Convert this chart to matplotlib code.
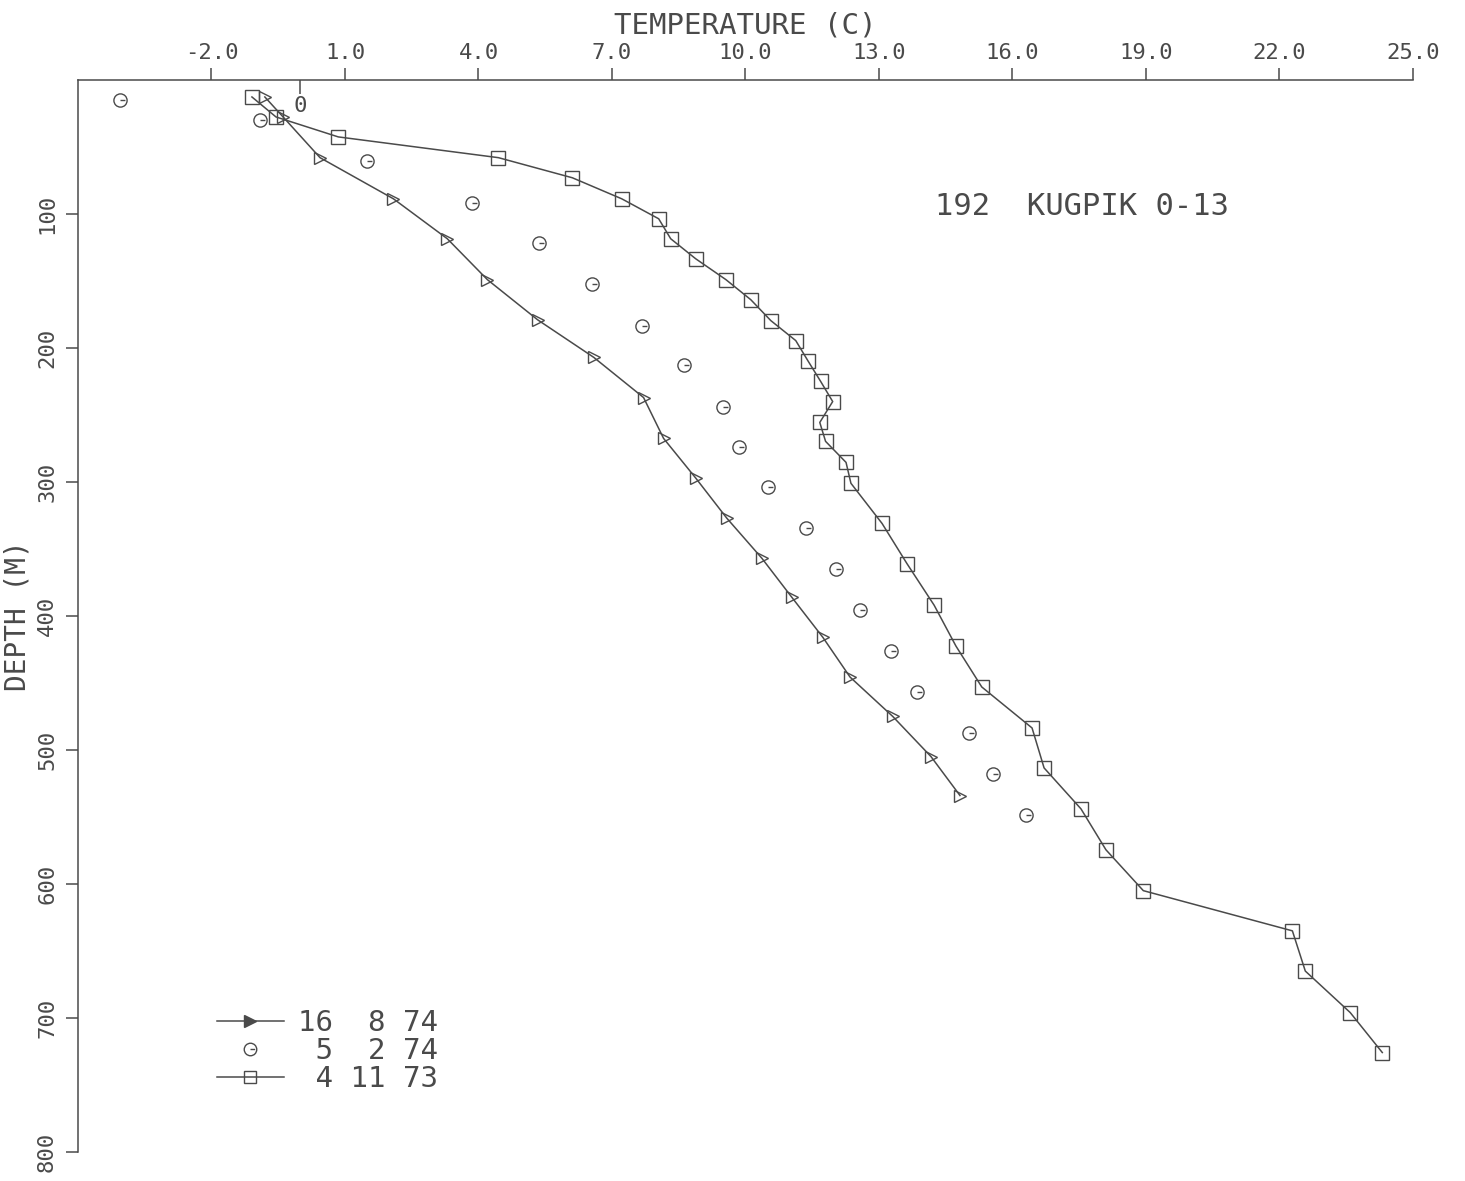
import matplotlib
matplotlib.use("Agg")
import matplotlib.pyplot as plt
from matplotlib.path import Path
from matplotlib.lines import Line2D

# Profil de temperature - puits 192 KUGPIK O-13
sq_temp = [-1.09, -0.55, 0.85, 4.45, 6.11, 7.22, 8.05, 8.32, 8.88, 9.56, 10.12, 10.57,
           11.13, 11.40, 11.69, 11.96, 11.67, 11.80, 12.26, 12.37, 13.07, 13.63, 14.24,
           14.73, 15.31, 16.44, 16.71, 17.54, 18.10, 18.94, 22.29, 22.58, 23.59, 24.31]
sq_depth = [12.7, 27.6, 42.5, 58.0, 73.0, 88.7, 103.6, 118.5, 133.4, 149.0, 164.0, 179.6,
            194.5, 209.4, 225.0, 240.0, 255.6, 269.7, 285.4, 301.0, 331.0, 361.0, 392.0,
            422.5, 453.0, 483.6, 513.4, 544.0, 574.5, 605.0, 635.0, 665.0, 696.0, 725.8]

tri_temp = [-0.80, -0.39, 0.44, 2.09, 3.30, 4.20, 5.33, 6.59, 7.71, 8.16, 8.88, 9.58,
            10.37, 11.04, 11.74, 12.35, 13.31, 14.17, 14.82]
tri_depth = [12.7, 27.6, 58.0, 88.7, 118.5, 149.0, 179.0, 207.0, 237.0, 267.5, 297.0,
             327.0, 357.0, 386.0, 416.0, 445.6, 475.0, 505.0, 534.0]

circ_temp = [-4.06, -0.91, 1.50, 3.86, 5.35, 6.56, 7.67, 8.63, 9.49, 9.85, 10.50, 11.36,
             12.03, 12.57, 13.27, 13.85, 15.02, 15.56, 16.30]
circ_depth = [15.0, 30.0, 60.4, 91.7, 121.5, 152.0, 183.3, 213.0, 243.7, 274.0, 304.0,
              334.6, 365.0, 395.7, 426.0, 456.8, 487.3, 517.9, 548.4]

labels = ["16  8 74", " 5  2 74", " 4 11 73"]
x_ticks = [-2.0, 1.0, 4.0, 7.0, 10.0, 13.0, 16.0, 19.0, 22.0, 25.0]
y_ticks = [100, 200, 300, 400, 500, 600, 700, 800]

ink = "#4a4a4a"
font = "DejaVu Sans Mono"

# marqueur "G" : cercle avec petit trait
g_marker = Path.make_compound_path(
    Path.unit_circle(),
    Path([[0.0, 0.0], [0.75, 0.0]], [Path.MOVETO, Path.LINETO]),
)

fig = plt.figure(figsize=(14.65, 11.81), dpi=100)
ax = fig.add_axes([0.0532, 0.0246, 0.9113, 0.9077])

ax.plot(tri_temp, tri_depth, color=ink, lw=1.1, marker=">", ms=8.5, mfc="none",
        mec=ink, mew=1.0)
ax.plot(circ_temp, circ_depth, ls="none", marker=g_marker, ms=9.5, mfc="none",
        mec=ink, mew=1.0)
ax.plot(sq_temp, sq_depth, color=ink, lw=1.1, marker="s", ms=9.5, mfc="none",
        mec=ink, mew=1.0)

ax.set_xlim(-5, 25)
ax.set_ylim(800, 0)

for s in ["right", "bottom"]:
    ax.spines[s].set_visible(False)
for s in ["top", "left"]:
    ax.spines[s].set_color(ink)
    ax.spines[s].set_linewidth(1.1)

ax.xaxis.set_ticks_position("top")
ax.xaxis.set_label_position("top")
ax.set_xticks(x_ticks)
ax.set_xticklabels([f"{v:.1f}" for v in x_ticks], fontfamily=font, fontsize=16,
                   color=ink)
ax.tick_params(axis="x", which="major", direction="out", length=9, width=1.1,
               color=ink, pad=3)
ax.set_xticks([0.0], minor=True)
ax.tick_params(axis="x", which="minor", direction="in", length=10, width=1.1,
               color=ink, labeltop=False)
ax.annotate("0", xy=(0.0, 0.976), xycoords=("data", "axes fraction"), ha="center",
            va="center", fontfamily=font, fontsize=16, color=ink)

ax.set_yticks(y_ticks)
ax.set_yticklabels([str(v) for v in y_ticks], rotation=90, va="center",
                   fontfamily=font, fontsize=16, color=ink)
ax.tick_params(axis="y", direction="out", length=9, width=1.1, color=ink, pad=6)

ax.set_xlabel("TEMPERATURE (C)", fontfamily=font, fontsize=21, color=ink, labelpad=7)
ax.set_ylabel("DEPTH (M)", fontfamily=font, fontsize=20, color=ink, labelpad=4)

ax.text(0.642, 0.882, "192  KUGPIK 0-13", transform=ax.transAxes, fontfamily=font,
        fontsize=22, color=ink, va="center", ha="left")

handles = [
    Line2D([], [], color=ink, lw=1.1, marker=">", ms=8, mfc=ink, mec=ink),
    Line2D([], [], ls="none", marker=g_marker, ms=9, mfc="none", mec=ink),
    Line2D([], [], color=ink, lw=1.1, marker="s", ms=9, mfc="none", mec=ink),
]
leg = ax.legend(handles, labels, loc="center left", bbox_to_anchor=(0.093, 0.094),
                frameon=False, handlelength=2.3, handletextpad=0.5, labelspacing=0.0,
                borderpad=0, prop={"family": font, "size": 21})
for t in leg.get_texts():
    t.set_color(ink)

fig.savefig("out.png", dpi=100, facecolor="white")
